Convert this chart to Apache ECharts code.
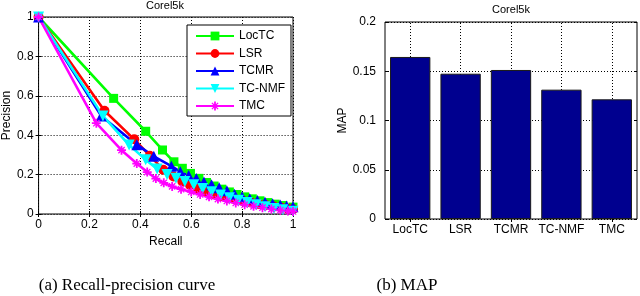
<!DOCTYPE html>
<html><head><meta charset="utf-8">
<script src="https://cdn.jsdelivr.net/npm/echarts@6/dist/echarts.min.js"></script>
<style>html,body{margin:0;padding:0;background:#fff}#c{width:640px;height:296px}</style>
</head><body><div id="c"></div>
<script>
// ---- data ----
const methods = ['LocTC', 'LSR', 'TCMR', 'TC-NMF', 'TMC'];
const mapValues = [0.1645, 0.1475, 0.1513, 0.1313, 0.1215];
const xTicks = [0, 0.2, 0.4, 0.6, 0.8, 1];

const prLocTC = [[0,1],[0.295,0.587],[0.421,0.42],[0.487,0.325],[0.532,0.265],[0.565,0.232],[0.597,0.206],[0.63,0.181],[0.66,0.16],[0.69,0.142],[0.72,0.126],[0.75,0.112],[0.78,0.099],[0.81,0.087],[0.84,0.077],[0.87,0.067],[0.9,0.058],[0.93,0.05],[0.96,0.043],[1.0,0.035]];
const prLSR = [[0,1],[0.259,0.524],[0.376,0.379],[0.437,0.296],[0.49,0.225],[0.53,0.19],[0.565,0.165],[0.595,0.147],[0.625,0.131],[0.655,0.117],[0.685,0.104],[0.715,0.093],[0.745,0.083],[0.775,0.074],[0.805,0.066],[0.835,0.058],[0.865,0.051],[0.895,0.044],[0.925,0.038],[0.955,0.032],[0.98,0.027],[1.0,0.024]];
const prTCMR = [[0,1],[0.246,0.498],[0.386,0.352],[0.453,0.293],[0.522,0.243],[0.557,0.215],[0.59,0.196],[0.62,0.18],[0.65,0.163],[0.68,0.148],[0.71,0.133],[0.74,0.118],[0.77,0.1],[0.8,0.088],[0.83,0.078],[0.86,0.068],[0.89,0.06],[0.92,0.052],[0.95,0.046],[0.975,0.041],[1.0,0.037]];
const prTCNMF = [[0,1],[0.253,0.498],[0.356,0.35],[0.421,0.276],[0.466,0.228],[0.505,0.2],[0.54,0.181],[0.575,0.165],[0.61,0.148],[0.645,0.13],[0.68,0.113],[0.715,0.097],[0.75,0.083],[0.785,0.07],[0.82,0.058],[0.855,0.047],[0.89,0.037],[0.925,0.028],[0.96,0.021],[1.0,0.014]];
const prTMC = [[0,1],[0.227,0.461],[0.326,0.324],[0.386,0.256],[0.427,0.213],[0.461,0.18],[0.492,0.158],[0.525,0.14],[0.56,0.126],[0.6,0.112],[0.635,0.099],[0.67,0.087],[0.705,0.076],[0.74,0.066],[0.775,0.056],[0.81,0.047],[0.845,0.039],[0.88,0.032],[0.915,0.025],[0.95,0.019],[0.98,0.015],[1.0,0.013]];

const seriesData = [prLocTC, prLSR, prTCMR, prTCNMF, prTMC];
const colors = ['#00FF00', '#FF0000', '#0000FF', '#00FFFF', '#FF00FF'];
const starPath = 'path://M4,0h2v4h4v2h-4v4h-2v-4h-4v-2h4z M1,2L2,1L9,8L8,9z M8,1L9,2L2,9L1,8z';
const symbols = [['rect',9,0],['circle',10,0],['triangle',11,0],['triangle',11,180],[starPath,9,0]];

const FONT = 'Liberation Sans';
const dotted = {color:'#000', type:[1,2], width:1};
const tickIn = {show:true, inside:true, length:3, lineStyle:{color:'#000'}};

const chart = echarts.init(document.getElementById('c'), null, {renderer:'canvas'});

const lineSeries = methods.map((m,i)=>({
  name:m, type:'line', xAxisIndex:0, yAxisIndex:0,
  data: seriesData[i], showSymbol:true, showAllSymbol:true,
  symbol: symbols[i][0], symbolSize: symbols[i][1], symbolRotate: symbols[i][2],
  itemStyle:{color:colors[i]}, lineStyle:{color:colors[i], width:2.6},
  emphasis:{disabled:true}, animation:false
}));

chart.setOption({
  animation:false,
  textStyle:{fontFamily:FONT},
  grid:[
    {left:37, top:17, width:256, height:197, show:true, borderColor:'#000', borderWidth:1},
    {left:385, top:22, width:252, height:197, show:true, borderColor:'#000', borderWidth:1}
  ],
  legend:{
    data:methods, orient:'vertical', left:187, top:25,
    padding:[5,6,4,8], itemWidth:38, itemHeight:11, itemGap:5.5,
    backgroundColor:'#fff', borderColor:'#000', borderWidth:1, borderRadius:0,
    textStyle:{fontFamily:FONT, fontSize:12, color:'#000', lineHeight:12},
    selectedMode:false
  },
  xAxis:[
    {gridIndex:0, type:'value', min:0, max:1, interval:0.2, name:'Recall', nameLocation:'middle', nameGap:21,
     nameTextStyle:{fontFamily:FONT, fontSize:12, color:'#000'},
     axisLine:{show:false}, axisTick:tickIn,
     axisLabel:{color:'#000', fontSize:12, margin:5, fontFamily:FONT},
     splitLine:{show:true, lineStyle:dotted}},
    {gridIndex:0, type:'value', position:'top', min:0, max:1, interval:0.2,
     axisLine:{show:false}, axisTick:tickIn, axisLabel:{show:false}, splitLine:{show:false}},
    {gridIndex:1, type:'category', data:methods,
     axisLine:{show:false}, axisTick:Object.assign({alignWithLabel:true}, tickIn),
     axisLabel:{color:'#000', fontSize:12, margin:5, fontFamily:FONT, interval:0},
     splitLine:{show:false}},
    {gridIndex:1, type:'category', position:'top', data:methods,
     axisLine:{show:false}, axisTick:Object.assign({alignWithLabel:true}, tickIn),
     axisLabel:{show:false}, splitLine:{show:false}}
  ],
  yAxis:[
    {gridIndex:0, type:'value', min:0, max:1, interval:0.2, name:'Precision', nameLocation:'middle', nameGap:24,
     nameTextStyle:{fontFamily:FONT, fontSize:12, color:'#000'},
     axisLine:{show:false}, axisTick:tickIn,
     axisLabel:{color:'#000', fontSize:12, margin:5, fontFamily:FONT},
     splitLine:{show:true, lineStyle:dotted}},
    {gridIndex:0, type:'value', position:'right', min:0, max:1, interval:0.2,
     axisLine:{show:false}, axisTick:tickIn, axisLabel:{show:false}, splitLine:{show:false}},
    {gridIndex:1, type:'value', min:0, max:0.2, interval:0.05, name:'MAP', nameLocation:'middle', nameGap:32,
     nameTextStyle:{fontFamily:FONT, fontSize:12, color:'#000'},
     axisLine:{show:false}, axisTick:tickIn,
     axisLabel:{color:'#000', fontSize:12, margin:9, fontFamily:FONT},
     splitLine:{show:true, lineStyle:dotted}},
    {gridIndex:1, type:'value', position:'right', min:0, max:0.2, interval:0.05,
     axisLine:{show:false}, axisTick:tickIn, axisLabel:{show:false}, splitLine:{show:false}}
  ],
  series: lineSeries.concat([
    {name:'MAP', type:'bar', xAxisIndex:2, yAxisIndex:2, data:mapValues, barWidth:'80%', z:3,
     itemStyle:{color:'#00008F', borderColor:'#1a1a1a', borderWidth:1},
     emphasis:{disabled:true}, animation:false},
    {name:'vgrid', type:'line', xAxisIndex:2, yAxisIndex:2, data:[], z:1,
     markLine:{silent:true, symbol:'none', z:1, animation:false, label:{show:false},
       lineStyle:dotted, emphasis:{disabled:true},
       data: methods.map(m=>({xAxis:m}))}}
  ]),
  graphic:[
    {type:'text', x:165, y:6, style:{text:'Corel5k', textAlign:'center', textVerticalAlign:'middle', fontFamily:FONT, fontSize:11, fill:'#000'}},
    {type:'text', x:511, y:10, style:{text:'Corel5k', textAlign:'center', textVerticalAlign:'middle', fontFamily:FONT, fontSize:11, fill:'#000'}},
    {type:'text', x:127, y:286, style:{text:'(a) Recall-precision curve', textAlign:'center', textVerticalAlign:'middle', fontFamily:'Liberation Serif', fontSize:17, fill:'#000'}},
    {type:'text', x:407, y:286, style:{text:'(b) MAP', textAlign:'center', textVerticalAlign:'middle', fontFamily:'Liberation Serif', fontSize:17, fill:'#000'}}
  ]
});
</script></body></html>
